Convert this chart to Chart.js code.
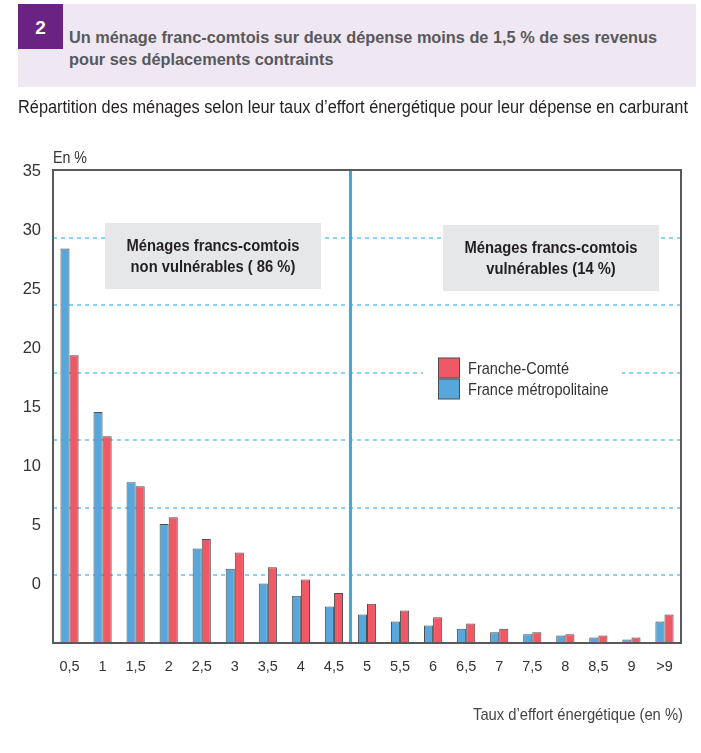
<!DOCTYPE html>
<html lang="fr">
<head>
<meta charset="utf-8">
<title>Taux d'effort énergétique</title>
<script src="https://cdn.jsdelivr.net/npm/chart.js@4.4.1/dist/chart.umd.min.js"></script>
<style>
    html, body { margin: 0; padding: 0; background: #fff; }
    body {
        width: 701px; height: 753px; position: relative; overflow: hidden;
        font-family: 'Liberation Sans', Arial, sans-serif;
    }
    #chart { position: absolute; left: 0; top: 0; }
    #header { position: absolute; left: 18px; top: 4px; width: 678px; height: 83px; background: #efe7f2; }
    #num {
        position: absolute; left: 0; top: 0; width: 45px; height: 45px;
        background: #6a2383; color: #fff; font-weight: bold; font-size: 19px;
        text-align: center; line-height: 47px;
    }
    .fit { display: inline-block; transform-origin: 0 0; white-space: nowrap; }
    #title {
        position: absolute; left: 51px; top: 23px; font-weight: bold; font-size: 17px;
        color: #58595b; line-height: 22px;
    }
    #subtitle { position: absolute; left: 18px; top: 97px; font-size: 17.5px; color: #231f20; }
</style>
</head>
<body>
<canvas id="chart" width="701" height="753"></canvas>
<div id="header">
    <div id="num">2</div>
    <div id="title" class="fit" data-w="588">Un ménage franc-comtois sur deux dépense moins de 1,5 % de ses revenus<br>pour ses déplacements contraints</div>
</div>
<div id="subtitle" class="fit" data-w="670">Répartition des ménages selon leur taux d’effort énergétique pour leur dépense en carburant</div>

<script>
// Data
const categories = ['0,5', '1', '1,5', '2', '2,5', '3', '3,5', '4', '4,5', '5', '5,5', '6', '6,5', '7', '7,5', '8', '8,5', '9', '>9'];
const franceMetro = [29.2, 17.1, 11.9, 8.8, 7.0, 5.5, 4.4, 3.5, 2.7, 2.1, 1.6, 1.3, 1.05, 0.8, 0.65, 0.55, 0.4, 0.25, 1.6];
const francheComte = [21.3, 15.3, 11.6, 9.3, 7.7, 6.7, 5.6, 4.7, 3.7, 2.9, 2.4, 1.9, 1.45, 1.05, 0.8, 0.65, 0.55, 0.4, 2.1];
const yTickLabels = [0, 5, 10, 15, 20, 25, 30, 35];

// squeeze the html texts to the narrow face of the original
document.querySelectorAll('.fit').forEach(el => {
    const w = el.getBoundingClientRect().width;
    el.style.transform = `scaleX(${el.dataset.w / w})`;
});

const FONT = "'Liberation Sans', Arial, sans-serif";
Chart.defaults.font.family = FONT;
Chart.defaults.color = '#333';

// draw a text squeezed horizontally
function narrowText(ctx, text, x, y, scale) {
    ctx.save();
    ctx.translate(x, y);
    ctx.scale(scale, 1);
    ctx.fillText(text, 0, 0);
    ctx.restore();
}

// frame, separator line, annotation boxes, legend
const decorPlugin = {
    id: 'decor',
    afterDraw(chart) {
        const { ctx, chartArea: a, scales: { x } } = chart;
        ctx.save();

        // separator between non vulnerable / vulnerable
        const sepX = (x.getPixelForValue(8) + x.getPixelForValue(9)) / 2;
        ctx.strokeStyle = '#3aa9dc';
        ctx.lineWidth = 3;
        ctx.beginPath();
        ctx.moveTo(sepX, a.top);
        ctx.lineTo(sepX, a.bottom);
        ctx.stroke();

        // frame
        ctx.strokeStyle = '#58595b';
        ctx.lineWidth = 2;
        ctx.strokeRect(a.left, a.top, a.right - a.left, a.bottom - a.top);

        ctx.textBaseline = 'middle';

        // unit
        ctx.fillStyle = '#333';
        ctx.font = '16.5px ' + FONT;
        ctx.textAlign = 'left';
        narrowText(ctx, 'En %', a.left, a.top - 12, 34 / ctx.measureText('En %').width);

        // axis title
        ctx.fillStyle = '#444';
        ctx.font = '17px ' + FONT;
        ctx.textAlign = 'right';
        const xt = 'Taux d’effort énergétique (en %)';
        narrowText(ctx, xt, a.right + 2, 715, 210 / ctx.measureText(xt).width);

        // annotation boxes
        const boxes = [
            { x: 105, y: 223, w: 216, h: 66, lines: ['Ménages francs-comtois', 'non vulnérables ( 86 %)'] },
            { x: 443, y: 225, w: 216, h: 66, lines: ['Ménages francs-comtois', 'vulnérables (14 %)'] }
        ];
        boxes.forEach(b => {
            ctx.fillStyle = '#e6e7e8';
            ctx.fillRect(b.x, b.y, b.w, b.h);
            ctx.fillStyle = '#231f20';
            ctx.font = 'bold 17px ' + FONT;
            ctx.textAlign = 'center';
            const k = 173 / ctx.measureText(b.lines[0]).width;
            b.lines.forEach((t, i) => narrowText(ctx, t, b.x + b.w / 2, b.y + 23 + i * 21, k));
        });

        // legend (Franche-Comté first)
        ctx.fillStyle = '#fff';
        ctx.fillRect(423, 352, 199, 52);
        ctx.font = '17px ' + FONT;
        ctx.textAlign = 'left';
        const lk = 101 / ctx.measureText('Franche-Comté').width;
        const items = chart.data.datasets.slice().reverse();
        items.forEach((ds, i) => {
            const ly = 358 + i * 21;
            ctx.fillStyle = ds.backgroundColor;
            ctx.fillRect(438.5, ly, 21, 20);
            ctx.strokeStyle = '#4d4d4f';
            ctx.lineWidth = 1;
            ctx.strokeRect(438.5, ly, 21, 20);
            ctx.fillStyle = '#333';
            narrowText(ctx, ds.label, 468, ly + 11, lk);
        });
        ctx.restore();
    }
};

new Chart(document.getElementById('chart'), {
    type: 'bar',
    data: {
        labels: categories,
        datasets: [{
            label: 'France métropolitaine',
            data: franceMetro,
            backgroundColor: '#57a6dc',
            borderColor: '#4d4d4f',
            borderWidth: 1
        }, {
            label: 'Franche-Comté',
            data: francheComte,
            backgroundColor: '#ef5864',
            borderColor: '#4d4d4f',
            borderWidth: 1
        }]
    },
    options: {
        responsive: false,
        animation: false,
        events: [],
        layout: { padding: { left: 0, right: 20, top: 170, bottom: 30 } },
        datasets: { bar: { categoryPercentage: 0.55, barPercentage: 1 } },
        plugins: { legend: { display: false }, tooltip: { enabled: false } },
        scales: {
            x: {
                grid: { display: false },
                border: { display: false },
                ticks: { color: '#333', font: { size: 14.5 }, padding: 7, maxRotation: 0, autoSkip: false },
                afterFit: s => { s.height = 80; }
            },
            y: {
                type: 'linear',
                min: 0, max: 35,
                ticks: { display: false, stepSize: 5 },
                grid: {
                    color: c => (c.tick && c.tick.value > 0 && c.tick.value < 35) ? '#8fd0ef' : 'rgba(0,0,0,0)',
                    lineWidth: 2,
                    drawTicks: false
                },
                border: { display: false, dash: [4, 4] },
                afterFit: s => { s.width = 0; }
            },
            // the printed labels sit off the grid in the source; they get their own axis
            yLabels: {
                type: 'linear',
                axis: 'y',
                position: 'left',
                min: -5, max: 35.15,
                grid: { display: false },
                border: { display: false },
                afterBuildTicks: s => { s.ticks = yTickLabels.map(v => ({ value: v })); },
                ticks: { color: '#333', font: { size: 16.5 }, padding: 4 },
                afterFit: s => { s.width = 53; }
            }
        }
    },
    plugins: [decorPlugin]
});
</script>
</body>
</html>
